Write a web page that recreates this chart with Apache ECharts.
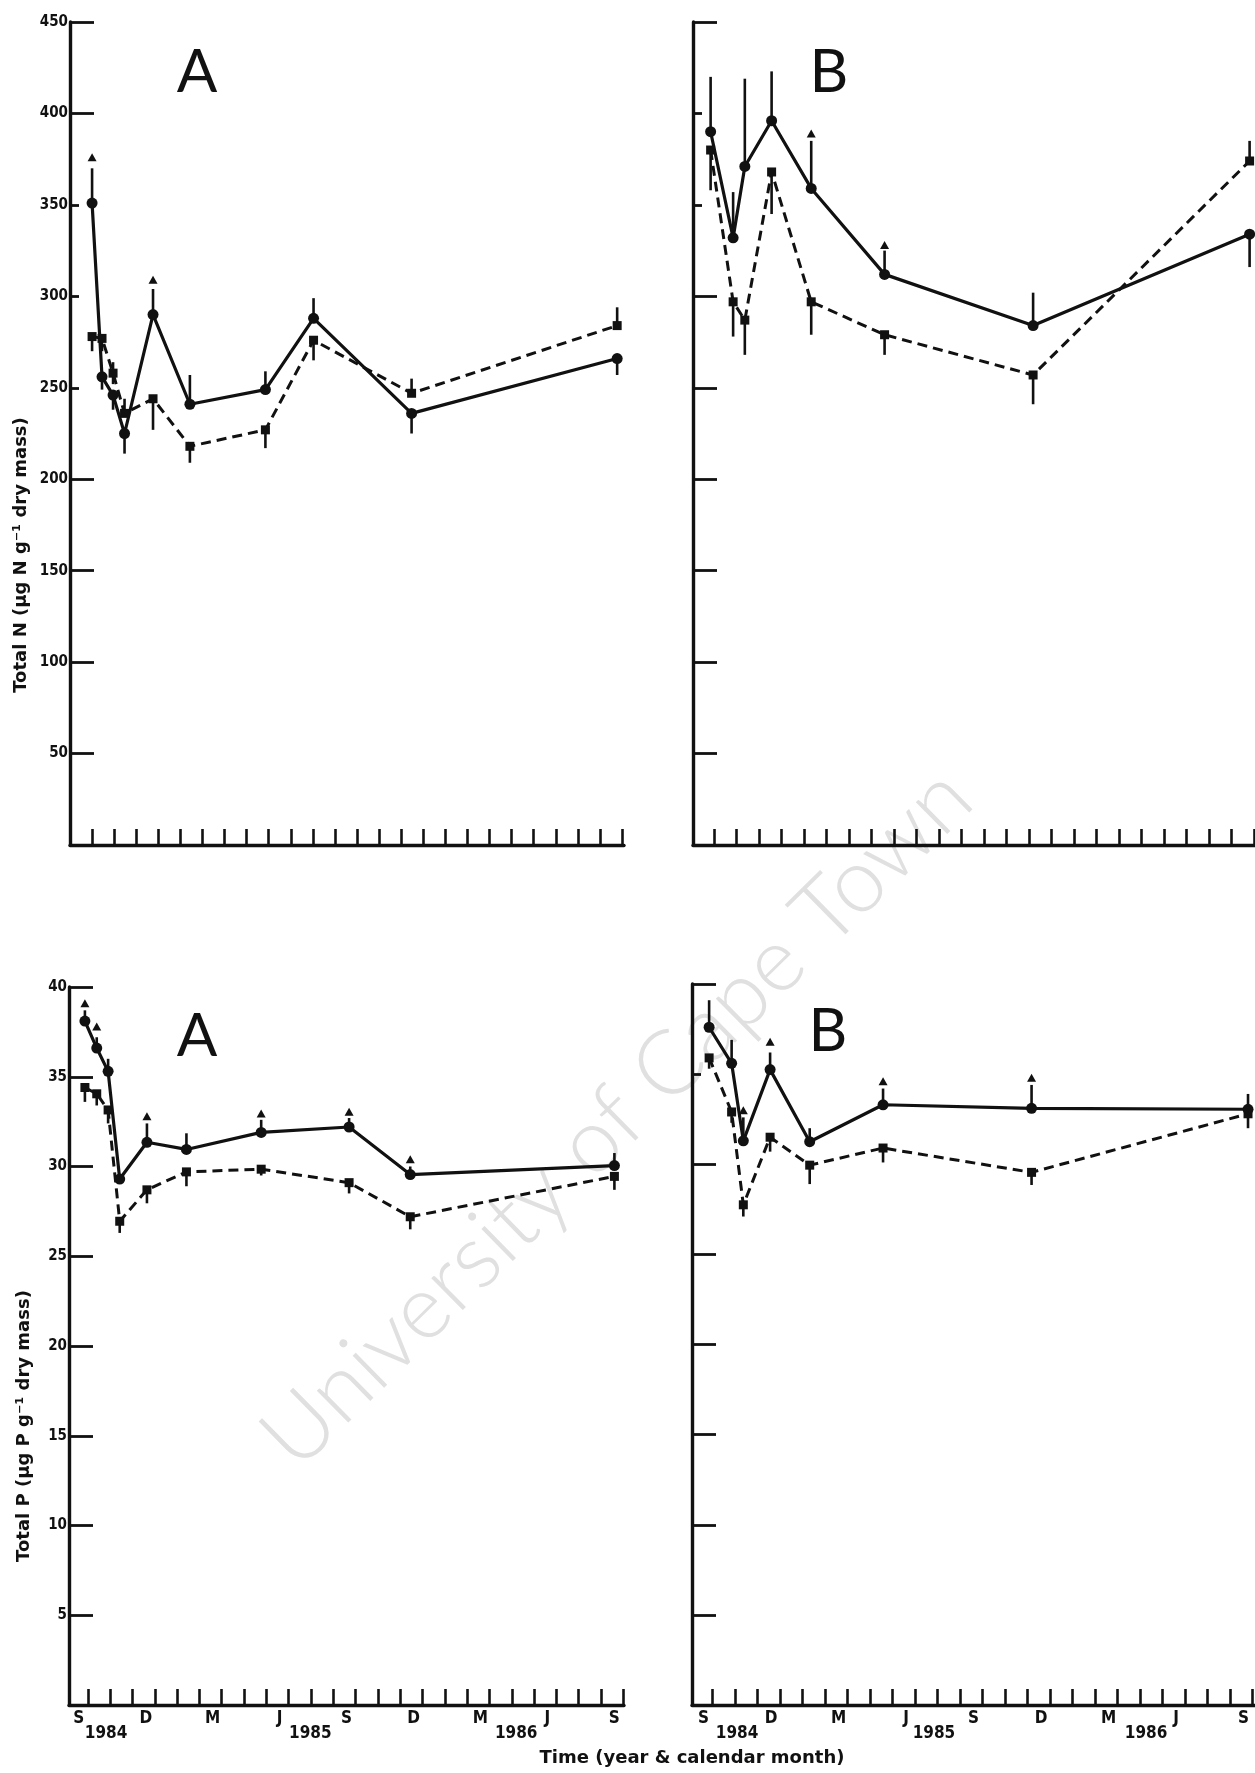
<!DOCTYPE html>
<html>
<head>
<meta charset="utf-8">
<script src="https://cdn.jsdelivr.net/npm/echarts@6/dist/echarts.min.js"></script>
<style>
  html, body { margin: 0; padding: 0; background: #ffffff; }
  #chart { width: 1255px; height: 1773px; }
</style>
</head>
<body>
<div id="chart"></div>
<script>
// Sampling times, in months after the start of September 1984
const monthsNA = [0, 0.45, 0.95, 1.47, 2.76, 4.43, 7.85, 10.03, 14.47, 23.78];
const monthsPA = [-0.13, 0.40, 0.91, 1.43, 2.65, 4.42, 7.77, 11.71, 14.45, 23.6];
const monthsB  = [-0.15, 0.85, 1.37, 2.56, 4.32, 7.58, 14.18, 23.8];

// Total N (µg N per g dry mass), site A
const nA_solid  = [351, 256, 246, 225, 290, 241, 249, 288, 236, 266];
const nA_dashed = [278, 277, 258, 236, 244, 218, 227, 276, 247, 284];
const nA_solidBar  = [[351, 370], [249, 256], [238, 246], [214, 225], [290, 304], [241, 257], [249, 259], [288, 299], [225, 236], [257, 266]];
const nA_dashedBar = [[270, 278], [270, 277], [252, 264], [236, 244], [227, 244], [209, 218], [217, 227], [265, 276], [247, 255], [284, 294]];
const nA_solidTri  = [376, null, null, null, 309, null, null, null, null, null];

// Total N, site B
const nB_solid  = [390, 332, 371, 396, 359, 312, 284, 334];
const nB_dashed = [380, 297, 287, 368, 297, 279, 257, 374];
const nB_solidBar  = [[390, 420], [332, 357], [371, 419], [396, 423], [359, 385], [312, 325], [284, 302], [316, 334]];
const nB_dashedBar = [[358, 380], [278, 297], [268, 287], [345, 368], [279, 297], [268, 279], [241, 257], [374, 385]];
const nB_solidTri  = [null, null, null, null, 389, 328, null, null];

// Total P (µg P per g dry mass), site A
const pA_solid  = [38.1, 36.6, 35.3, 29.3, 31.35, 30.95, 31.9, 32.2, 29.55, 30.05];
const pA_dashed = [34.4, 34.05, 33.15, 26.95, 28.7, 29.7, 29.85, 29.1, 27.2, 29.45];
const pA_solidBar  = [[38.1, 38.7], [36.6, 37.2], [35.3, 36.0], [29.3, 29.3], [31.35, 32.4], [30.95, 31.85], [31.9, 32.6], [32.2, 32.7], [29.55, 30.0], [30.05, 30.75]];
const pA_dashedBar = [[33.6, 34.4], [33.4, 34.05], [32.4, 33.15], [26.3, 26.95], [27.95, 28.7], [28.9, 29.7], [29.5, 29.85], [28.5, 29.1], [26.5, 27.2], [28.7, 29.45]];
const pA_solidTri  = [39.1, 37.8, null, null, 32.8, null, 32.95, 33.05, 30.4, null];

// Total P, site B
const pB_solid  = [37.6, 35.6, 31.3, 35.25, 31.25, 33.3, 33.1, 33.05];
const pB_dashed = [35.9, 32.9, 27.75, 31.5, 29.95, 30.9, 29.55, 32.8];
const pB_solidBar  = [[37.6, 39.1], [35.6, 36.9], [31.3, 32.6], [35.25, 36.2], [31.25, 32.0], [33.3, 34.2], [33.1, 34.4], [33.05, 33.9]];
const pB_dashedBar = [[35.3, 35.9], [32.3, 32.9], [27.1, 27.75], [30.7, 31.5], [28.9, 29.95], [30.1, 30.9], [28.85, 29.55], [32.0, 32.8]];
const pB_solidTri  = [null, null, 33.0, 36.8, null, 34.6, 34.8, null];

// Axis ticks and labels
const monthTicks = [0, 1, 2, 3, 4, 5, 6, 7, 8, 9, 10, 11, 12, 13, 14, 15, 16, 17, 18, 19, 20, 21, 22, 23, 24];
const monthLabelAt = [0, 3, 6, 9, 12, 15, 18, 21, 24];
const monthLabels = ['S', 'D', 'M', 'J', 'S', 'D', 'M', 'J', 'S'];
const yearLabels = ['1984', '1985', '1986'];
const yearAtA = [0.82, 9.97, 19.2];
const yearAtB = [1.09, 9.84, 19.27];

const nLabels = [50, 100, 150, 200, 250, 300, 350, 400, 450];
const nLongA = [50, 100, 150, 200, 400, 450];
const nShortA = [250, 300, 350];
const nLongB = [50, 100, 150, 200, 250, 300, 450];
const nShortB = [350, 400];
const pLabels = [5, 10, 15, 20, 25, 30, 35, 40];
const pLongA = [5, 10, 15, 20, 25, 30, 35, 40];
const pLongB = [5, 10, 15, 20, 25, 30, 40];
const pShortB = [35];

const yTitleN = 'Total N (µg N g\u207B\u00B9 dry mass)';
const yTitleP = 'Total P (µg P g\u207B\u00B9 dry mass)';
const xTitle = 'Time (year & calendar month)';

const INK = '#111111';
const tickFont = "'DejaVu Sans Condensed', 'Liberation Sans Narrow', 'DejaVu Sans', sans-serif";
const titleFont = "'DejaVu Sans', 'Liberation Sans', sans-serif";

// Grid boxes (pixels) and x ranges (months) for the four panels: N-A, N-B, P-A, P-B
const grids = [
  { left: 70,  top: 22,  width: 554, height: 823 },
  { left: 693, top: 22,  width: 562, height: 823 },
  { left: 69,  top: 987, width: 555, height: 718 },
  { left: 692, top: 984, width: 563, height: 721 }
];
const xRanges = [[-1.0, 24.09], [-0.933, 24.04], [-0.843, 24.03], [-0.911, 24.11]];

function xAxisFor(i, withLabels) {
  return {
    type: 'value', gridIndex: i, min: xRanges[i][0], max: xRanges[i][1],
    splitLine: { show: false },
    axisLine: { show: true, onZero: false, lineStyle: { color: INK, width: 3.4 } },
    axisTick: { show: true, inside: true, length: 16, customValues: monthTicks, lineStyle: { color: INK, width: 2.6 } },
    axisLabel: withLabels ? {
      show: true, customValues: monthLabelAt, margin: 5, color: INK,
      fontFamily: tickFont, fontWeight: 'bold', fontSize: 17, padding: [0, 18, 0, 0],
      formatter: v => monthLabels[monthLabelAt.indexOf(Math.round(v))] || ''
    } : { show: false }
  };
}

function yearAxisFor(i, at) {
  return {
    type: 'value', gridIndex: i, min: xRanges[i][0], max: xRanges[i][1], position: 'bottom',
    splitLine: { show: false }, axisLine: { show: false }, axisTick: { show: false },
    axisLabel: {
      show: true, customValues: at, margin: 20, color: INK,
      fontFamily: tickFont, fontWeight: 'bold', fontSize: 17,
      formatter: v => {
        let best = 0;
        at.forEach((a, k) => { if (Math.abs(a - v) < Math.abs(at[best] - v)) best = k; });
        return yearLabels[best];
      }
    }
  };
}

function yAxisFor(i, max, longTicks, labels) {
  return {
    type: 'value', gridIndex: i, min: 0, max: max, position: 'left',
    splitLine: { show: false },
    axisLine: { show: true, onZero: false, lineStyle: { color: INK, width: 3.4 } },
    axisTick: { show: true, inside: true, length: 24, customValues: longTicks, lineStyle: { color: INK, width: 2.8 } },
    axisLabel: labels ? {
      show: true, customValues: labels, margin: 2, color: INK,
      fontFamily: tickFont, fontWeight: 'bold', fontSize: 15
    } : { show: false }
  };
}

function shortTickAxisFor(i, max, ticks) {
  return {
    type: 'value', gridIndex: i, min: 0, max: max, position: 'left',
    splitLine: { show: false },
    axisLine: { show: false, onZero: false },
    axisTick: { show: true, inside: true, length: 9, customValues: ticks, lineStyle: { color: INK, width: 2.8 } },
    axisLabel: { show: false }
  };
}

const xAxes = [
  xAxisFor(0, false), xAxisFor(1, false), xAxisFor(2, true), xAxisFor(3, true),
  yearAxisFor(2, yearAtA), yearAxisFor(3, yearAtB)
];
const yAxes = [
  yAxisFor(0, 450, nLongA, nLabels),
  yAxisFor(1, 450, nLongB, null),
  yAxisFor(2, 40, pLongA, pLabels),
  yAxisFor(3, 40, pLongB, null),
  shortTickAxisFor(0, 450, nShortA),
  shortTickAxisFor(1, 450, nShortB),
  shortTickAxisFor(3, 40, pShortB)
];

function pairs(xs, ys) { return xs.map((x, k) => [x, ys[k]]); }

function lineSeries(axis, xs, ys, dashed) {
  return {
    type: 'line', xAxisIndex: axis, yAxisIndex: axis,
    data: pairs(xs, ys),
    symbol: dashed ? 'rect' : 'circle',
    symbolSize: dashed ? 9 : 11,
    itemStyle: { color: INK, opacity: 1 },
    lineStyle: { color: INK, width: dashed ? 3 : 3.2, type: dashed ? [10, 6] : 'solid', opacity: 1 },
    animation: false, silent: true, z: 3
  };
}

function barSeries(axis, xs, bars) {
  return {
    type: 'custom', xAxisIndex: axis, yAxisIndex: axis,
    data: xs.map((x, k) => [x, bars[k][0], bars[k][1]]),
    encode: { x: 0, y: [1, 2] },
    renderItem: (params, api) => {
      const a = api.coord([api.value(0), api.value(1)]);
      const b = api.coord([api.value(0), api.value(2)]);
      return {
        type: 'line',
        shape: { x1: a[0], y1: a[1], x2: b[0], y2: b[1] },
        style: { stroke: INK, lineWidth: 2.6 }
      };
    },
    animation: false, silent: true, z: 2
  };
}

function triangleSeries(axis, xs, tri) {
  const data = [];
  xs.forEach((x, k) => { if (tri[k] != null) data.push([x, tri[k]]); });
  return {
    type: 'scatter', xAxisIndex: axis, yAxisIndex: axis, data: data,
    symbol: 'triangle', symbolSize: [9, 8], itemStyle: { color: INK, opacity: 1 },
    animation: false, silent: true, z: 3
  };
}

const series = [
  barSeries(0, monthsNA, nA_solidBar), barSeries(0, monthsNA, nA_dashedBar),
  lineSeries(0, monthsNA, nA_dashed, true), lineSeries(0, monthsNA, nA_solid, false),
  triangleSeries(0, monthsNA, nA_solidTri),

  barSeries(1, monthsB, nB_solidBar), barSeries(1, monthsB, nB_dashedBar),
  lineSeries(1, monthsB, nB_dashed, true), lineSeries(1, monthsB, nB_solid, false),
  triangleSeries(1, monthsB, nB_solidTri),

  barSeries(2, monthsPA, pA_solidBar), barSeries(2, monthsPA, pA_dashedBar),
  lineSeries(2, monthsPA, pA_dashed, true), lineSeries(2, monthsPA, pA_solid, false),
  triangleSeries(2, monthsPA, pA_solidTri),

  barSeries(3, monthsB, pB_solidBar), barSeries(3, monthsB, pB_dashedBar),
  lineSeries(3, monthsB, pB_dashed, true), lineSeries(3, monthsB, pB_solid, false),
  triangleSeries(3, monthsB, pB_solidTri)
];

function panelLetter(ch, x, y) {
  return {
    type: 'text', x: x, y: y, z: 5,
    style: { text: ch, fill: INK, font: "normal 60px Lato, 'Open Sans', sans-serif", align: 'center', verticalAlign: 'middle' }
  };
}

const graphics = [
  {
    type: 'text', x: 617, y: 1118, rotation: 44.5 * Math.PI / 180, z: -10,
    style: { text: 'University of Cape Town', fill: '#e0e0e0', font: "300 90px Lato, 'Open Sans', sans-serif", align: 'center', verticalAlign: 'middle' }
  },
  panelLetter('A', 197, 73), panelLetter('B', 829, 73),
  panelLetter('A', 197, 1037), panelLetter('B', 828, 1032),
  {
    type: 'text', x: 21, y: 555, rotation: Math.PI / 2, z: 5,
    style: { text: yTitleN, fill: INK, font: 'bold 18px ' + titleFont, align: 'center', verticalAlign: 'middle' }
  },
  {
    type: 'text', x: 24, y: 1426, rotation: Math.PI / 2, z: 5,
    style: { text: yTitleP, fill: INK, font: 'bold 18px ' + titleFont, align: 'center', verticalAlign: 'middle' }
  },
  {
    type: 'text', x: 692, y: 1758, z: 5,
    style: { text: xTitle, fill: INK, font: 'bold 18px ' + titleFont, align: 'center', verticalAlign: 'middle' }
  }
];

const chart = echarts.init(document.getElementById('chart'), null, { renderer: 'canvas', width: 1255, height: 1773 });
chart.setOption({
  backgroundColor: '#ffffff',
  animation: false,
  grid: grids.map(g => Object.assign({ containLabel: false }, g)),
  xAxis: xAxes,
  yAxis: yAxes,
  series: series,
  graphic: graphics
});
</script>
</body>
</html>
